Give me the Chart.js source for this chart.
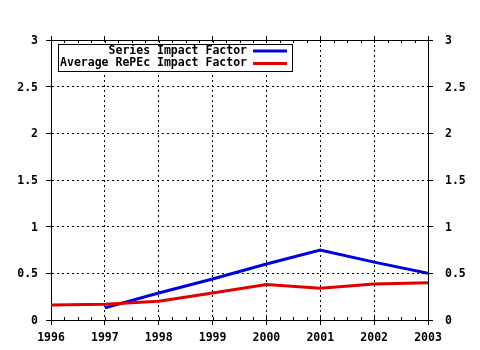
<!DOCTYPE html>
<html>
<head>
<meta charset="utf-8">
<script src="https://cdn.jsdelivr.net/npm/chart.js@4/dist/chart.umd.min.js"></script>
<style>
  body { margin: 0; background: #fff; }
  #wrap { width: 480px; height: 350px; position: relative; }
</style>
</head>
<body>
<div id="wrap"><canvas id="impactChart"></canvas></div>
<script>
const years = [1996, 1997, 1998, 1999, 2000, 2001, 2002, 2003];
const seriesImpact = [null, 0.13, 0.29, 0.44, 0.60, 0.75, 0.62, 0.50];
const averageImpact = [0.16, 0.17, 0.20, 0.29, 0.38, 0.34, 0.385, 0.40];
const seriesLabels = ['Series Impact Factor', 'Average RePEc Impact Factor'];
const seriesColors = ['#0000e0', '#e00000'];

const monoFont = { family: 'DejaVu Sans Mono', size: 11.5, weight: 'bold' };

const toPoints = vals => years.map((y, i) => ({ x: y, y: vals[i] })).filter(p => p.y !== null);

// legend box in the top-left of the plot, plus the small inside ticks
const boxLegend = {
    id: 'boxLegend',
    afterDraw(chart) {
        const ctx = chart.ctx;
        ctx.save();
        ctx.fillStyle = '#fff';
        ctx.fillRect(58, 44, 235, 27);
        ctx.strokeStyle = '#000';
        ctx.lineWidth = 1;
        ctx.strokeRect(58.5, 44.5, 234, 27);
        ctx.font = 'bold 11.5px "DejaVu Sans Mono"';
        ctx.fillStyle = '#000';
        ctx.textAlign = 'right';
        ctx.textBaseline = 'middle';
        seriesLabels.forEach((lbl, i) => {
            const y = 51 + i * 12.5;
            ctx.fillText(lbl, 247, y);
            ctx.strokeStyle = seriesColors[i];
            ctx.lineWidth = 3;
            ctx.beginPath();
            ctx.moveTo(253, y);
            ctx.lineTo(287, y);
            ctx.stroke();
        });
        ctx.restore();
    },
    beforeDatasetsDraw(chart) {
        const ctx = chart.ctx;
        const xs = chart.scales.x;
        const area = chart.chartArea;
        ctx.save();
        ctx.strokeStyle = '#000';
        ctx.lineWidth = 1;
        for (let v = years[0]; v <= years[years.length - 1]; v += 0.25) {
            const px = Math.round(xs.getPixelForValue(v)) + 0.5;
            ctx.beginPath();
            ctx.moveTo(px, area.bottom);
            ctx.lineTo(px, area.bottom - 3);
            ctx.moveTo(px, area.top);
            ctx.lineTo(px, area.top + 3);
            ctx.stroke();
        }
        ctx.restore();
    }
};

const yAxis = (pos, width, pad) => ({
    type: 'linear',
    position: pos,
    min: 0,
    max: 3,
    ticks: { stepSize: 0.5, color: '#000', font: monoFont, padding: pad, labelOffset: 1, callback: v => String(v) },
    grid: { color: '#000', tickLength: 5, drawOnChartArea: pos === 'left', tickBorderDash: [] },
    border: { display: true, color: '#000', width: 1, dash: [2, 3] },
    afterFit: s => { s.width = width; }
});

new Chart(document.getElementById('impactChart'), {
    type: 'line',
    data: {
        datasets: [
            {
                label: seriesLabels[1],
                data: toPoints(averageImpact),
                borderColor: seriesColors[1],
                borderWidth: 3,
                pointRadius: 0,
                tension: 0
            },
            {
                label: seriesLabels[0],
                data: toPoints(seriesImpact),
                borderColor: seriesColors[0],
                borderWidth: 3,
                pointRadius: 0,
                tension: 0
            }
        ]
    },
    options: {
        responsive: true,
        maintainAspectRatio: false,
        animation: false,
        layout: { padding: 0 },
        plugins: { legend: { display: false }, tooltip: { enabled: false } },
        scales: {
            x: {
                type: 'linear',
                position: 'bottom',
                min: years[0],
                max: years[years.length - 1],
                ticks: { stepSize: 1, color: '#000', font: monoFont, padding: 6, callback: v => String(v) },
                grid: { color: '#000', tickLength: 5, tickBorderDash: [] },
                border: { display: true, color: '#000', width: 1, dash: [2, 3] },
                afterFit: s => { s.height = 30; }
            },
            xTop: {
                type: 'linear',
                position: 'top',
                min: years[0],
                max: years[years.length - 1],
                ticks: { stepSize: 1, display: false },
                grid: { color: '#000', tickLength: 4, drawOnChartArea: false },
                border: { display: true, color: '#000', width: 1 },
                afterFit: s => { s.height = 40; }
            },
            y: yAxis('left', 51, 8),
            y2: yAxis('right', 52, 12)
        }
    },
    plugins: [boxLegend]
});
</script>
</body>
</html>
